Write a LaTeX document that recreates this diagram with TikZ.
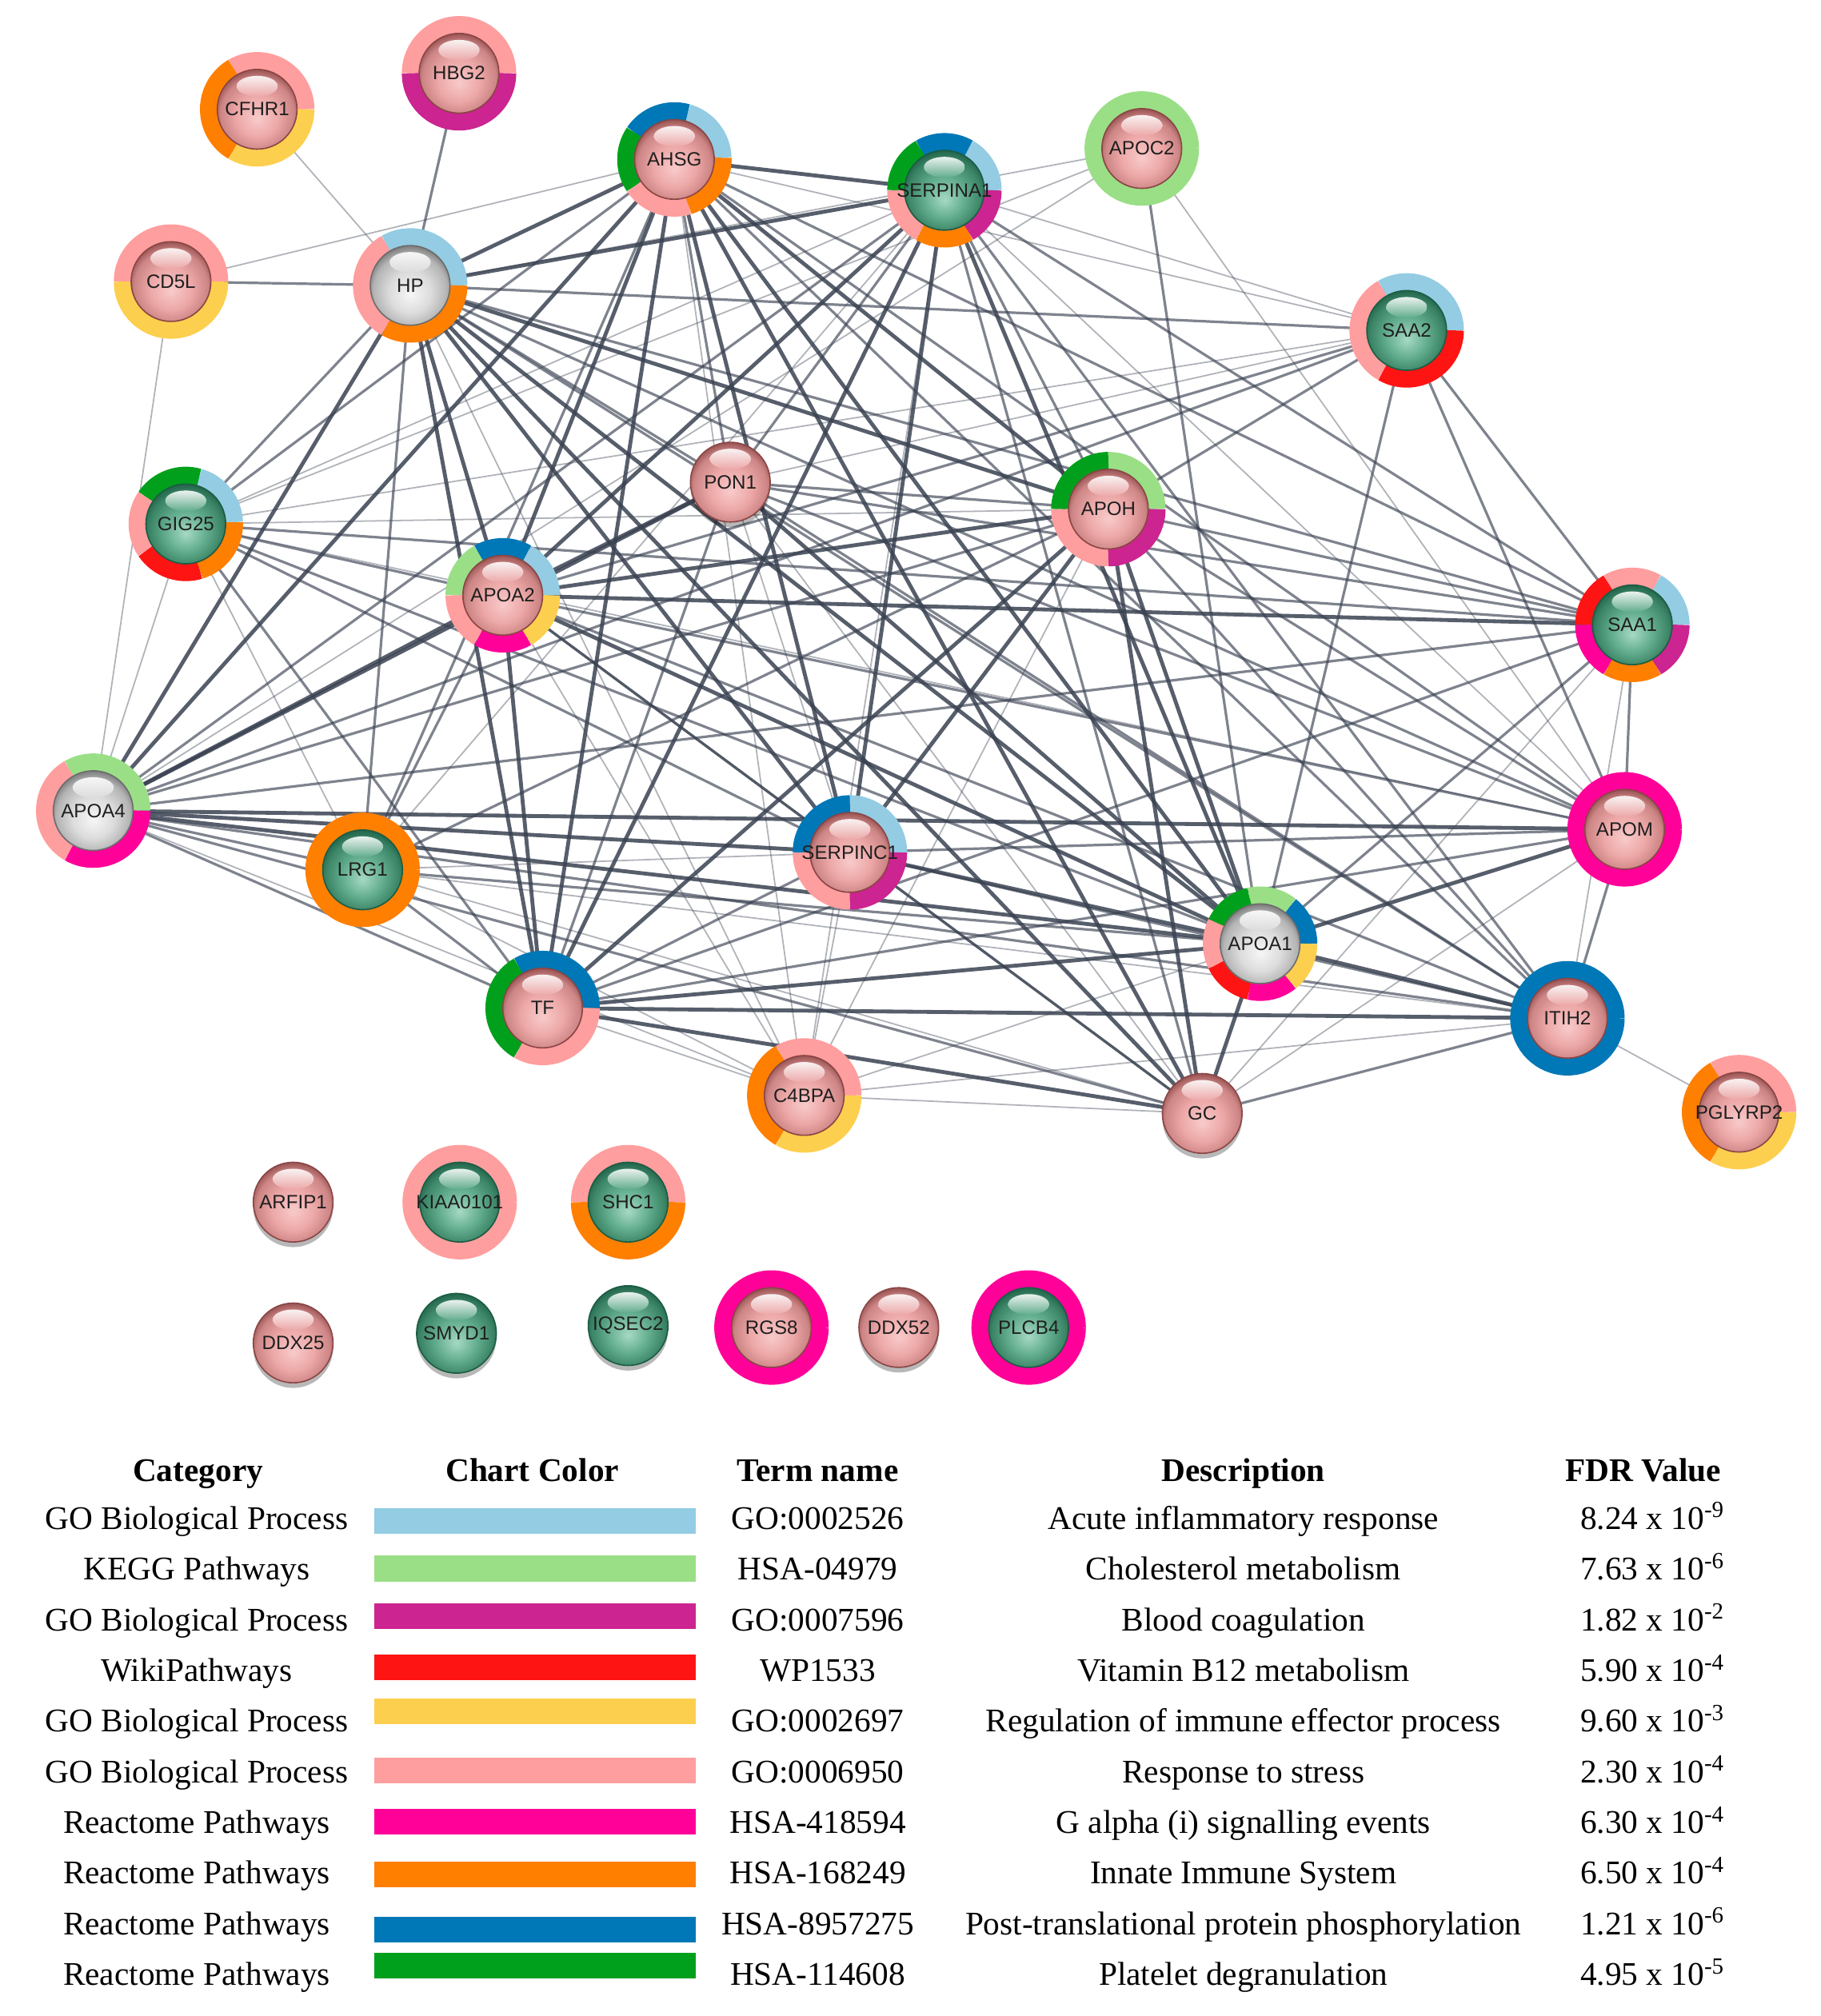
\documentclass[tikz,border=0pt]{standalone}
\usepackage{fontspec}
\setmainfont{Liberation Serif}
\setsansfont{Liberation Sans}
\usetikzlibrary{calc}
\definecolor{rLB}{HTML}{93CCE3}
\definecolor{rLG}{HTML}{9ADF86}
\definecolor{rPU}{HTML}{CC2490}
\definecolor{rRD}{HTML}{FF1414}
\definecolor{rYE}{HTML}{FDCF4F}
\definecolor{rPK}{HTML}{FF9E9E}
\definecolor{rHP}{HTML}{FF0099}
\definecolor{rOR}{HTML}{FF7F00}
\definecolor{rBL}{HTML}{0077B6}
\definecolor{rGR}{HTML}{00A01C}
\definecolor{pkL}{HTML}{F8CACA}
\definecolor{pkM}{HTML}{EDA8A8}
\definecolor{pkD}{HTML}{CD8585}
\definecolor{pkR}{HTML}{8A4545}
\definecolor{gnL}{HTML}{A6D9C4}
\definecolor{gnM}{HTML}{62AD8E}
\definecolor{gnD}{HTML}{3B8466}
\definecolor{gnR}{HTML}{1B5C44}
\definecolor{gyL}{HTML}{F6F6F6}
\definecolor{gyM}{HTML}{DCDCDC}
\definecolor{gyD}{HTML}{B4B4B4}
\definecolor{gyR}{HTML}{6C6C6C}
\definecolor{edgec}{HTML}{3A4252}
\pgfdeclareradialshading{pkball}{\pgfpoint{0bp}{-6bp}}{color(0bp)=(pkL); color(13bp)=(pkM); color(23bp)=(pkD); color(29bp)=(pkR); color(50bp)=(pkR)}
\pgfdeclareradialshading{gnball}{\pgfpoint{0bp}{-6bp}}{color(0bp)=(gnL); color(13bp)=(gnM); color(23bp)=(gnD); color(29bp)=(gnR); color(50bp)=(gnR)}
\pgfdeclareradialshading{gyball}{\pgfpoint{0bp}{-6bp}}{color(0bp)=(gyL); color(13bp)=(gyM); color(23bp)=(gyD); color(29bp)=(gyR); color(50bp)=(gyR)}
\pgfdeclarelayer{edgelayer}
\pgfsetlayers{edgelayer,main}
\tikzset{
  lbl/.style={circle, inner sep=0pt, minimum size=62pt, font=\fontsize{15}{15}\selectfont\sffamily, text=black!88},
  noring/.style={draw=none},
  edgeK/.style={draw=edgec, line width=3pt, opacity=0.85},
  edgeM/.style={draw=edgec, line width=2pt, opacity=0.65},
  edgeT/.style={draw=edgec, line width=1.1pt, opacity=0.4},
  tabtxt/.style={anchor=base, inner sep=0pt, font=\fontsize{25.7}{30}\selectfont, text=black},
  tabhead/.style={anchor=base, inner sep=0pt, font=\fontsize{25.7}{30}\selectfont\bfseries, text=black},
  barbox/.style={minimum width=250pt, minimum height=20pt, inner sep=0pt, draw=none}
}
\newcommand{\prot}[6]{%
  \coordinate (#1-c) at (#2,-#3);
  \fill[black, opacity=0.28] ([yshift=-4pt]#1-c) circle (31pt);
  \foreach \rc/\angA/\angB in {#6} {\draw[line width=14pt, \rc] (#1-c) ++(\angA:37.5pt) arc[start angle=\angA, end angle=\angB, radius=37.5pt];}
  \shade[shading=#5ball] (#1-c) circle (31pt);
  \draw[#5R, line width=1pt] (#1-c) circle (31pt);
  \shade[top color=white, bottom color=#5M, opacity=0.9] ([yshift=18pt]#1-c) ellipse (16pt and 8pt);
  \node[lbl] (#1) at (#1-c) {#4};
}
\begin{document}
\begin{tikzpicture}[x=1pt,y=1pt]
\useasboundingbox (0,0) rectangle (1416,-1568);
% proteins
\prot{cfhr1}{200}{85}{CFHR1}{pk}{rPK/0/120,rOR/120/240,rYE/240/360}
\prot{hbg2}{357}{57}{HBG2}{pk}{rPK/0/180,rPU/180/360}
\prot{ahsg}{524.5}{124}{AHSG}{pk}{rLB/2/74,rBL/74/146,rGR/146/214,rPK/214/287,rOR/287/362}
\prot{serpina1}{734.5}{148}{SERPINA1}{gn}{rLB/0/60,rBL/60/120,rGR/120/180,rPK/180/240,rOR/240/300,rPU/300/360}
\prot{apoc2}{888}{115.5}{APOC2}{pk}{rLG/0/360}
\prot{cd5l}{133}{219}{CD5L}{pk}{rPK/0/180,rYE/180/360}
\prot{hp}{319}{222}{HP}{gy}{rLB/0/120,rPK/120/240,rOR/240/360}
\prot{saa2}{1094}{257}{SAA2}{gn}{rLB/0/120,rPK/120/240,rRD/240/360}
\prot{pon1}{568}{375}{PON1}{pk}{noring/0/0}
\prot{gig25}{144.5}{407.5}{GIG25}{gn}{rLB/2/74,rGR/74/146,rPK/146/214,rRD/214/287,rOR/287/362}
\prot{apoh}{862}{396}{APOH}{pk}{rLG/0/90,rGR/90/180,rPK/180/270,rPU/270/360}
\prot{apoa2}{391}{463}{APOA2}{pk}{rLB/0/60,rBL/60/120,rLG/120/180,rPK/180/240,rHP/240/300,rYE/300/360}
\prot{saa1}{1269.5}{486}{SAA1}{gn}{rLB/0/60,rPK/60/120,rRD/120/180,rHP/180/240,rOR/240/300,rPU/300/360}
\prot{apoa4}{72.5}{630.5}{APOA4}{gy}{rLG/0/120,rPK/120/240,rHP/240/360}
\prot{lrg1}{282}{676.5}{LRG1}{gn}{rOR/0/360}
\prot{serpinc1}{661}{663}{SERPINC1}{pk}{rLB/0/90,rBL/90/180,rPK/180/270,rPU/270/360}
\prot{apom}{1263.5}{645}{APOM}{pk}{rHP/0/360}
\prot{apoa1}{980}{734}{APOA1}{gy}{rBL/0/51.4,rLG/51.4/102.9,rGR/102.9/154.3,rPK/154.3/205.7,rRD/205.7/257.1,rHP/257.1/308.6,rYE/308.6/360}
\prot{tf}{422}{784}{TF}{pk}{rBL/0/120,rGR/120/240,rPK/240/360}
\prot{itih2}{1219}{792}{ITIH2}{pk}{rBL/0/360}
\prot{c4bpa}{625.5}{852}{C4BPA}{pk}{rPK/0/120,rOR/120/240,rYE/240/360}
\prot{gc}{935}{866}{GC}{pk}{noring/0/0}
\prot{pglyrp2}{1352.5}{865}{PGLYRP2}{pk}{rPK/0/120,rOR/120/240,rYE/240/360}
\prot{arfip1}{228}{935}{ARFIP1}{pk}{noring/0/0}
\prot{kiaa0101}{357.5}{935}{KIAA0101}{gn}{rPK/0/360}
\prot{shc1}{488.5}{935}{SHC1}{gn}{rPK/0/180,rOR/180/360}
\prot{ddx25}{228}{1044.5}{DDX25}{pk}{noring/0/0}
\prot{smyd1}{355}{1037}{SMYD1}{gn}{noring/0/0}
\prot{iqsec2}{488.5}{1031}{IQSEC2}{gn}{noring/0/0}
\prot{rgs8}{600}{1032.5}{RGS8}{pk}{rHP/0/360}
\prot{ddx52}{699}{1032.5}{DDX52}{pk}{noring/0/0}
\prot{plcb4}{800}{1032.5}{PLCB4}{gn}{rHP/0/360}
% edges
\begin{pgfonlayer}{edgelayer}
\fill[white] (0,0) rectangle (1416,-1568);
\foreach \es/\ea/\eb in {
edgeK/hp/serpina1, edgeK/hp/ahsg, edgeK/hp/apoa4, edgeK/hp/apoa2, edgeK/hp/apoh, edgeK/hp/apoa1, edgeK/hp/tf, edgeK/hp/serpinc1, edgeK/hp/gc,
edgeK/ahsg/serpina1, edgeK/ahsg/apoa4, edgeK/ahsg/apoa2, edgeK/ahsg/tf, edgeK/ahsg/apoa1, edgeK/ahsg/apoh, edgeK/ahsg/gc, edgeK/ahsg/serpinc1,
edgeK/serpina1/apoa2, edgeK/serpina1/tf, edgeK/serpina1/apoa1, edgeK/serpina1/serpinc1,
edgeK/apoa2/pon1, edgeK/pon1/apoa4, edgeK/pon1/apoa1,
edgeK/apoa2/apoa4, edgeK/apoa2/apoa1, edgeK/apoa2/apoh, edgeK/apoa2/tf, edgeK/apoa2/saa1,
edgeK/apoh/apoa1, edgeK/apoh/gc, edgeK/apoh/tf, edgeK/apoh/serpinc1,
edgeK/apoa4/apoa1, edgeK/apoa4/serpinc1, edgeK/apoa4/apom,
edgeK/apoa1/tf, edgeK/apoa1/itih2, edgeK/apoa1/serpinc1, edgeK/apoa1/gc, edgeK/apoa1/apom,
edgeK/tf/itih2, edgeK/tf/gc,
edgeM/hbg2/hp, edgeM/cd5l/hp, edgeM/hp/saa2, edgeM/hp/pon1, edgeM/hp/gig25, edgeM/hp/lrg1, edgeM/hp/itih2, edgeM/hp/apom, edgeM/hp/saa1,
edgeM/ahsg/gig25, edgeM/ahsg/lrg1, edgeM/ahsg/pon1, edgeM/ahsg/itih2, edgeM/ahsg/saa1, edgeM/ahsg/apom,
edgeM/serpina1/apoa4, edgeM/serpina1/gc, edgeM/serpina1/itih2, edgeM/serpina1/apoh, edgeM/serpina1/saa1, edgeM/serpina1/pon1,
edgeM/apoc2/apoa1,
edgeM/saa2/apoa2, edgeM/saa2/apoa4, edgeM/saa2/apoh, edgeM/saa2/apoa1, edgeM/saa2/saa1, edgeM/saa2/apom,
edgeM/pon1/apoh, edgeM/pon1/saa1, edgeM/pon1/apom, edgeM/pon1/itih2, edgeM/pon1/tf,
edgeM/gig25/apoa2, edgeM/gig25/apoa1, edgeM/gig25/tf, edgeM/gig25/saa1, edgeM/gig25/serpinc1,
edgeM/apoh/apoa4, edgeM/apoh/saa1, edgeM/apoh/apom, edgeM/apoh/itih2, edgeM/apoh/lrg1,
edgeM/apoa2/apom, edgeM/apoa2/lrg1, edgeM/apoa2/serpinc1, edgeM/apoa2/itih2, edgeM/apoa2/gc,
edgeM/saa1/apom, edgeM/saa1/apoa1, edgeM/saa1/apoa4, edgeM/saa1/tf,
edgeM/apoa4/lrg1, edgeM/apoa4/tf, edgeM/apoa4/itih2, edgeM/apoa4/gc,
edgeM/lrg1/tf, edgeM/lrg1/apoa1,
edgeM/serpinc1/tf, edgeM/serpinc1/gc, edgeM/serpinc1/itih2, edgeM/serpinc1/apom,
edgeM/apom/tf, edgeM/itih2/gc, edgeM/itih2/apom,
edgeT/cfhr1/hp, edgeT/cd5l/ahsg, edgeT/cd5l/apoa4, edgeT/itih2/pglyrp2, edgeT/apoc2/apom, edgeT/apoc2/apoa4, edgeT/apoc2/gig25, edgeT/apoc2/hp,
edgeT/hp/c4bpa, edgeT/ahsg/saa2, edgeT/ahsg/c4bpa, edgeT/serpina1/gig25, edgeT/serpina1/lrg1, edgeT/serpina1/saa2, edgeT/serpina1/apom, edgeT/serpina1/c4bpa,
edgeT/saa2/gig25, edgeT/saa2/pon1, edgeT/pon1/gc, edgeT/pon1/serpinc1, edgeT/gig25/apoa4, edgeT/gig25/apoh, edgeT/gig25/lrg1, edgeT/gig25/apom,
edgeT/apoh/c4bpa, edgeT/apoa2/c4bpa, edgeT/saa1/itih2, edgeT/saa1/gc, edgeT/apoa4/c4bpa, edgeT/lrg1/gc, edgeT/lrg1/itih2, edgeT/lrg1/serpinc1, edgeT/lrg1/c4bpa,
edgeT/serpinc1/c4bpa, edgeT/apom/gc, edgeT/apoa1/c4bpa, edgeT/tf/c4bpa, edgeT/gc/c4bpa, edgeT/c4bpa/itih2}
{\draw[\es] (\ea) -- (\eb);}
\end{pgfonlayer}
% table header
\node[tabhead] (hcat) at (154,-1152.5) {Category};
\node[tabhead] (hcol) at (414,-1152.5) {Chart Color};
\node[tabhead] (hterm) at (636,-1152.5) {Term name};
\node[tabhead] (hdesc) at (967,-1152.5) {Description};
\node[tabhead] (hfdr) at (1278,-1152.5) {FDR Value};
\foreach \tI/\tCat/\tCol/\tTerm/\tDesc/\tFdr/\tBy in {
1/GO Biological Process/rLB/GO:0002526/Acute inflammatory response/{8.24 x 10\textsuperscript{-9}}/1183,
2/KEGG Pathways/rLG/HSA-04979/Cholesterol metabolism/{7.63 x 10\textsuperscript{-6}}/1220,
3/GO Biological Process/rPU/GO:0007596/Blood coagulation/{1.82 x 10\textsuperscript{-2}}/1257,
4/WikiPathways/rRD/WP1533/Vitamin B12 metabolism/{5.90 x 10\textsuperscript{-4}}/1297,
5/GO Biological Process/rYE/GO:0002697/Regulation of immune effector process/{9.60 x 10\textsuperscript{-3}}/1331,
6/GO Biological Process/rPK/GO:0006950/Response to stress/{2.30 x 10\textsuperscript{-4}}/1377,
7/Reactome Pathways/rHP/HSA-418594/G alpha (i) signalling events/{6.30 x 10\textsuperscript{-4}}/1417,
8/Reactome Pathways/rOR/HSA-168249/Innate Immune System/{6.50 x 10\textsuperscript{-4}}/1458,
9/Reactome Pathways/rBL/HSA-8957275/Post-translational protein phosphorylation/{1.21 x 10\textsuperscript{-6}}/1501,
10/Reactome Pathways/rGR/HSA-114608/Platelet degranulation/{4.95 x 10\textsuperscript{-5}}/1529}
{
  \pgfmathsetmacro{\tY}{1189.5+(\tI-1)*39.4}
  \node[tabtxt] (cat\tI) at (153,-\tY) {\tCat};
  \node[barbox, fill=\tCol] (bar\tI) at (416,-\tBy) {};
  \node[tabtxt] (term\tI) at (636,-\tY) {\tTerm};
  \node[tabtxt] (desc\tI) at (967,-\tY) {\tDesc};
  \node[tabtxt] (fdr\tI) at (1285,-\tY) {\tFdr};
}
\end{tikzpicture}
\end{document}
